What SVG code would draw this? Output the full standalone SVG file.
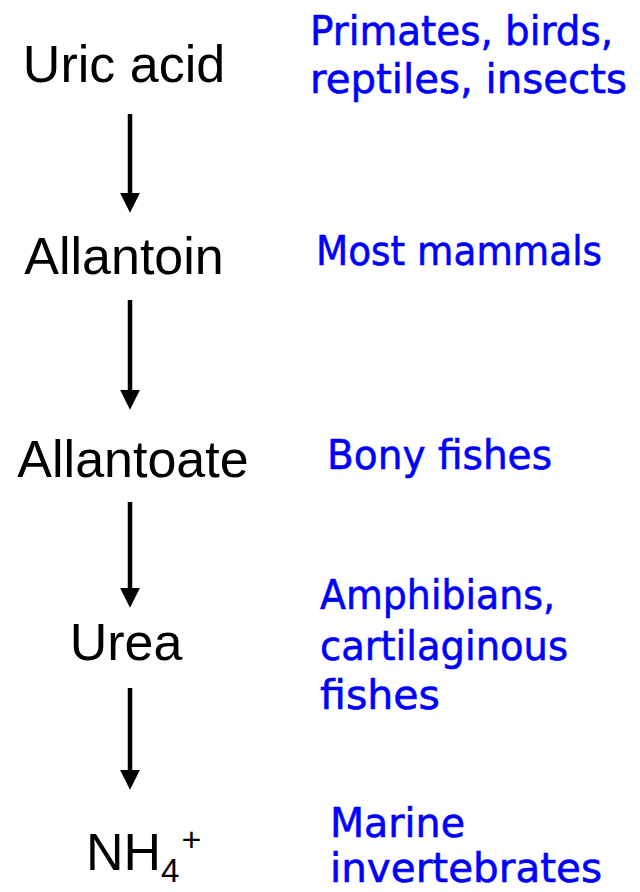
<svg xmlns="http://www.w3.org/2000/svg" width="640" height="892" viewBox="0 0 640 892">
<style>
.n{font-family:"Liberation Sans",Arial,sans-serif;font-size:52px;fill:#000;text-anchor:middle}
.b{font-family:"Comic Sans MS","DejaVu Sans",sans-serif;font-size:41px;fill:#0000ff;stroke:#0000ff;stroke-width:0.6}
.c{stroke:#000;stroke-width:4.5;fill:none}
</style>
<defs>
<marker id="ah" markerWidth="4.4" markerHeight="4.4" refX="0" refY="2.2" orient="auto" markerUnits="strokeWidth">
<path d="M0,0 L4.4,2.2 L0,4.4 Z" fill="#000"/>
</marker>
</defs>
<rect width="640" height="892" fill="#fff"/>
<g id="connectors">
<line class="c" x1="130" y1="114" x2="130" y2="193" marker-end="url(#ah)"/>
<line class="c" x1="130" y1="300" x2="130" y2="390" marker-end="url(#ah)"/>
<line class="c" x1="130" y1="502" x2="130" y2="588" marker-end="url(#ah)"/>
<line class="c" x1="130" y1="688" x2="130" y2="770" marker-end="url(#ah)"/>
</g>
<g id="uric"><text class="n" x="124" y="82">Uric acid</text></g>
<g id="allantoin"><text class="n" x="124" y="274">Allantoin</text></g>
<g id="allantoate"><text class="n" x="133" y="477">Allantoate</text></g>
<g id="urea"><text class="n" x="126" y="660">Urea</text></g>
<g id="nh4"><text x="86" y="870" style="font-family:'Liberation Sans',Arial,sans-serif;font-size:52px">NH<tspan style="font-size:33px" dy="12">4</tspan><tspan style="font-size:34px" dx="2" dy="-31">+</tspan></text></g>
<g id="labels">
<text class="b" x="310" y="45" textLength="303" lengthAdjust="spacingAndGlyphs">Primates, birds,</text>
<text class="b" x="310" y="93" textLength="317" lengthAdjust="spacingAndGlyphs">reptiles, insects</text>
<text class="b" x="316" y="265" textLength="286" lengthAdjust="spacingAndGlyphs">Most mammals</text>
<text class="b" x="327" y="469" textLength="225" lengthAdjust="spacingAndGlyphs">Bony fishes</text>
<text class="b" x="320" y="609" textLength="235" lengthAdjust="spacingAndGlyphs">Amphibians,</text>
<text class="b" x="320" y="660" textLength="248" lengthAdjust="spacingAndGlyphs">cartilaginous</text>
<text class="b" x="320" y="709" textLength="120" lengthAdjust="spacingAndGlyphs">fishes</text>
<text class="b" x="330" y="837" textLength="135" lengthAdjust="spacingAndGlyphs">Marine</text>
<text class="b" x="330" y="882" textLength="272" lengthAdjust="spacingAndGlyphs">invertebrates</text>
</g>
</svg>
